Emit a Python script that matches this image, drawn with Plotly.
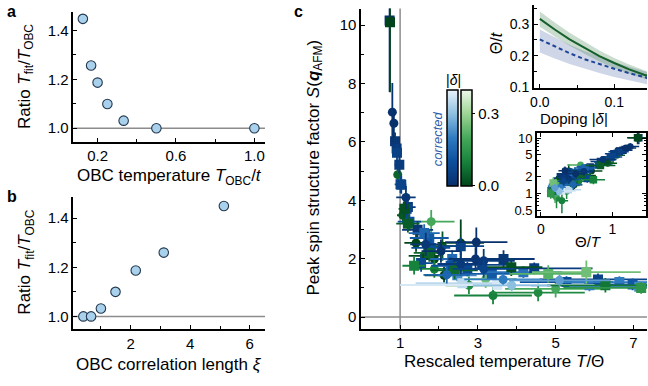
import plotly.graph_objects as go
from plotly.colors import sample_colorscale

W, H = 648, 386
FONT = "Liberation Sans, Arial, sans-serif"
TICK = 15
TITLE = 17

# ---------------- panel a / b data ----------------
a_T_obc = [0.125, 0.167, 0.2, 0.25, 0.333, 0.5, 1.0]
a_ratio = [1.448, 1.257, 1.187, 1.099, 1.031, 1.0, 1.0]
b_xi = [0.41, 0.67, 1.0, 1.49, 2.17, 3.11, 5.13]
b_ratio = [1.0, 1.0, 1.032, 1.10, 1.187, 1.26, 1.45]

# ---------------- panel c data (T/Theta, S, x-err, y-err, |delta|) ----------------
# corrected (blue) squares
bs_x = [0.73, 0.87, 0.91, 0.92, 0.98, 1.01, 1.03, 1.2, 1.17, 1.24, 1.45, 1.75, 1.62, 1.79, 1.54, 2.56, 2.34, 2.3, 2.47, 2.73, 3.11, 3.36, 3.66, 4.17, 4.45, 5.28, 5.87, 6.09, 6.64, 6.98, 7.15, 2.6, 3.5]
bs_y = [10.16, 6.02, 5.78, 5.63, 5.22, 4.55, 4.53, 3.77, 3.71, 3.27, 2.99, 2.71, 2.88, 2.37, 1.85, 2.43, 1.99, 1.76, 1.43, 1.65, 1.79, 1.48, 1.99, 1.54, 1.67, 1.2, 1.09, 1.29, 1.2, 1.12, 1.04, 1.16, 1.1]
bs_ex = [0.08, 0.1, 0.1, 0.12, 0.12, 0.15, 0.12, 0.2, 0.15, 0.3, 0.4, 0.5, 0.4, 0.5, 0.3, 0.6, 0.6, 0.5, 0.5, 0.6, 0.7, 0.8, 0.8, 1.0, 1.5, 1.2, 1.5, 1.5, 1.5, 1.8, 1.8, 1.2, 2.5]
bs_ey = [2.45, 0.3, 0.3, 0.3, 0.3, 0.3, 0.3, 0.4, 0.3, 0.3, 0.3, 0.3, 0.3, 0.3, 0.3, 0.3, 0.3, 0.3, 0.2, 0.25, 0.25, 0.2, 0.3, 0.2, 0.2, 0.2, 0.2, 0.2, 0.2, 0.2, 0.2, 0.1, 0.1]
bs_d = [0.0, 0.02, 0.03, 0.05, 0.04, 0.08, 0.06, 0.03, 0.07, 0.1, 0.02, 0.12, 0.15, 0.1, 0.08, 0.06, 0.16, 0.1, 0.22, 0.08, 0.05, 0.12, 0.02, 0.18, 0.04, 0.1, 0.2, 0.06, 0.2, 0.12, 0.22, 0.35, 0.38]

# corrected (blue) circles
bc_x = [0.80, 0.84, 1.15, 1.66, 2.05, 2.56, 2.96, 2.94, 3.15, 3.15, 3.65, 3.87, 5.1, 2.2]
bc_y = [7.02, 6.64, 4.1, 2.49, 2.26, 1.82, 2.57, 1.99, 1.93, 1.65, 1.29, 1.09, 1.26, 1.45]
bc_ex = [0.08, 0.1, 0.25, 0.4, 0.5, 0.6, 0.8, 0.7, 0.8, 0.8, 1.0, 1.0, 1.3, 0.6]
bc_ey = [1.0, 0.5, 0.4, 0.4, 0.4, 0.4, 0.5, 0.4, 0.4, 0.3, 0.2, 0.2, 0.2, 0.3]
bc_d = [0.01, 0.0, 0.02, 0.02, 0.0, 0.03, 0.0, 0.01, 0.03, 0.06, 0.2, 0.3, 0.25, 0.15]

# uncorrected (green) squares
gs_x = [0.74, 1.11, 1.2, 1.36, 3.86, 4.81, 5.79, 6.28, 2.4, 1.75, 7.2]
gs_y = [10.1, 3.71, 3.2, 1.76, 1.71, 1.48, 1.54, 1.09, 1.6, 2.2, 1.0]
gs_ex = [0.08, 0.15, 0.3, 0.3, 0.8, 1.0, 1.4, 1.5, 0.6, 0.4, 2.0]
gs_ey = [2.4, 0.4, 0.3, 0.3, 0.3, 0.3, 0.4, 0.25, 0.3, 0.3, 0.2]
gs_d = [0.0, 0.02, 0.04, 0.1, 0.02, 0.22, 0.25, 0.08, 0.06, 0.05, 0.15]

# uncorrected (green) circles
gc_x = [0.94, 1.07, 1.41, 1.62, 1.88, 1.88, 2.13, 2.09, 2.56, 1.8, 2.77, 3.39, 4.55, 5.0, 3.2]
gc_y = [4.88, 3.49, 2.54, 2.1, 1.99, 1.65, 1.43, 2.43, 2.54, 3.27, 1.09, 0.74, 0.84, 0.97, 1.3]
gc_ex = [0.1, 0.15, 0.3, 0.4, 0.4, 0.4, 0.5, 0.5, 0.6, 0.6, 0.6, 1.0, 1.2, 1.3, 0.8]
gc_ey = [0.3, 0.3, 0.3, 0.3, 0.3, 0.3, 0.3, 0.5, 0.8, 0.4, 0.3, 0.3, 0.3, 0.3, 0.3]
gc_d = [0.05, 0.03, 0.0, 0.01, 0.0, 0.1, 0.0, 0.03, 0.0, 0.2, 0.12, 0.1, 0.12, 0.2, 0.25]

# ---------------- inset: Theta/t vs doping ----------------
dop = [0.0, 0.02, 0.04, 0.06, 0.08, 0.10, 0.12, 0.14, 0.16]
th_g = [0.317, 0.283, 0.252, 0.225, 0.199, 0.177, 0.157, 0.140, 0.125]
th_g_hi = [0.340, 0.305, 0.273, 0.244, 0.217, 0.193, 0.172, 0.154, 0.138]
th_g_lo = [0.292, 0.261, 0.232, 0.206, 0.182, 0.161, 0.143, 0.127, 0.113]
th_b = [0.252, 0.229, 0.208, 0.189, 0.173, 0.159, 0.145, 0.132, 0.120]
th_b_hi = [0.283, 0.258, 0.235, 0.215, 0.197, 0.180, 0.165, 0.151, 0.138]
th_b_lo = [0.210, 0.191, 0.174, 0.159, 0.145, 0.133, 0.121, 0.111, 0.101]

BLUES = [[0, "#08306b"], [0.25, "#0b4f9c"], [0.5, "#2f7bc0"], [0.75, "#8dbfe0"], [1, "#eaf2fa"]]
GREENS = [[0, "#00441b"], [0.25, "#17823c"], [0.5, "#45a85a"], [0.75, "#9dd494"], [1, "#edf8ea"]]
DMAX = 0.4

def px(x):
    return x / W

def py(y):
    return 1 - y / H

fig = go.Figure()

# panels a and b
mk = dict(size=9.5, color="#a9d1ec", line=dict(color="#23384f", width=1.1))
fig.add_trace(go.Scatter(x=a_T_obc, y=a_ratio, mode="markers", marker=mk, xaxis="x", yaxis="y", showlegend=False))
fig.add_trace(go.Scatter(x=b_xi, y=b_ratio, mode="markers", marker=mk, xaxis="x2", yaxis="y2", showlegend=False))


def add_group(xs, ys, exs, eys, ds, symbol, scale, size):
    for x, y, ex, ey, d in zip(xs, ys, exs, eys, ds):
        col = sample_colorscale(scale, [d / DMAX])[0]
        fig.add_trace(go.Scatter(
            x=[x], y=[y], mode="markers", xaxis="x3", yaxis="y3", showlegend=False,
            marker=dict(symbol=symbol, size=size, color=col, line=dict(width=0)),
            error_x=dict(type="data", array=[ex], color=col, thickness=1.8, width=0),
            error_y=dict(type="data", array=[ey], color=col, thickness=1.8, width=0)))
        # inset: Theta/T
        ix = 1.0 / x
        iex = ex / (x * x)
        fig.add_trace(go.Scatter(
            x=[ix], y=[y], mode="markers", xaxis="x5", yaxis="y5", showlegend=False,
            marker=dict(symbol=symbol, size=size * 0.75, color=col, line=dict(width=0)),
            error_x=dict(type="data", array=[iex], color=col, thickness=1.5, width=0),
            error_y=dict(type="data", array=[ey], color=col, thickness=1.5, width=0)))


add_group(gc_x, gc_y, gc_ex, gc_ey, gc_d, "circle", GREENS, 9)
add_group(bs_x, bs_y, bs_ex, bs_ey, bs_d, "square", BLUES, 10)
add_group(gs_x, gs_y, gs_ex, gs_ey, gs_d, "square", GREENS, 10)
add_group(bc_x, bc_y, bc_ex, bc_ey, bc_d, "circle", BLUES, 9)

# colorbars
cb_common = dict(thickness=11, thicknessmode="pixels", len=98 / H, lenmode="fraction",
                 y=py(188), yanchor="bottom", xanchor="left", xpad=0, ypad=0,
                 outlinewidth=1.5, outlinecolor="black")
fig.add_trace(go.Scatter(x=[None], y=[None], mode="markers", xaxis="x3", yaxis="y3", showlegend=False,
                         marker=dict(color=[0], colorscale=BLUES, cmin=0, cmax=DMAX, showscale=True,
                                     colorbar=dict(x=px(446), showticklabels=False, ticks="", **cb_common))))
fig.add_trace(go.Scatter(x=[None], y=[None], mode="markers", xaxis="x3", yaxis="y3", showlegend=False,
                         marker=dict(color=[0], colorscale=GREENS, cmin=0, cmax=DMAX, showscale=True,
                                     colorbar=dict(x=px(461), tickvals=[0, 0.3], ticktext=["0.0", "0.3"],
                                                   ticks="outside", ticklen=3, tickwidth=1, tickcolor="black",
                                                   tickfont=dict(size=TICK, family=FONT, color="black"), **cb_common))))

# inset 1: bands and lines
fig.add_trace(go.Scatter(x=dop + dop[::-1], y=th_b_hi + th_b_lo[::-1], fill="toself", mode="lines",
                         line=dict(width=0), fillcolor="rgba(95,120,175,0.30)", xaxis="x4", yaxis="y4", showlegend=False))
fig.add_trace(go.Scatter(x=dop + dop[::-1], y=th_g_hi + th_g_lo[::-1], fill="toself", mode="lines",
                         line=dict(width=0), fillcolor="rgba(80,140,90,0.30)", xaxis="x4", yaxis="y4", showlegend=False))
fig.add_trace(go.Scatter(x=dop, y=th_g, mode="lines", line=dict(color="#15602a", width=2),
                         xaxis="x4", yaxis="y4", showlegend=False))
fig.add_trace(go.Scatter(x=dop, y=th_b, mode="lines", line=dict(color="#1f4596", width=2, dash="4px,3px"),
                         xaxis="x4", yaxis="y4", showlegend=False))

axbase = dict(showline=True, linecolor="black", linewidth=1.6, ticks="inside", ticklen=4, tickwidth=1.2,
              tickcolor="black", showgrid=False, zeroline=False,
              tickfont=dict(size=TICK, family=FONT, color="black"))
small_tick = dict(size=14, family=FONT, color="black")


def ax(**kw):
    d = dict(axbase)
    d.update(kw)
    return d


def mnr(vals, ln=3):
    return dict(tickvals=vals, ticks="inside", ticklen=ln, tickcolor="black")


layout = dict(
    width=W, height=H, margin=dict(l=0, r=0, t=0, b=0), paper_bgcolor="white", plot_bgcolor="white",
    font=dict(family=FONT, size=TICK, color="black"),
    xaxis=ax(domain=[px(70), px(263)], range=[0.077, 1.054], tickvals=[0.2, 0.6, 1.0], ticktext=["0.2", "0.6", "1.0"],
             minor=mnr([0.4, 0.8]), anchor="y"),
    yaxis=ax(domain=[py(143), py(10)], range=[0.945, 1.477], tickvals=[1.0, 1.2, 1.4], ticktext=["1.0", "1.2", "1.4"],
             minor=mnr([1.1, 1.3]), anchor="x"),
    xaxis2=ax(domain=[px(70), px(263)], range=[0.078, 6.51], tickvals=[2, 4, 6],
              minor=mnr([1, 3, 5]), anchor="y2"),
    yaxis2=ax(domain=[py(335), py(200)], range=[0.948, 1.485], tickvals=[1.0, 1.2, 1.4], ticktext=["1.0", "1.2", "1.4"],
              minor=mnr([1.1, 1.3]), anchor="x2"),
    xaxis3=ax(domain=[px(360), 1.0], range=[0.0, 7.35], tickvals=[1, 3, 5, 7],
              minor=mnr([2, 4, 6]), anchor="y3"),
    yaxis3=ax(domain=[py(334.3), py(6.7)], range=[-0.39, 10.57], tickvals=[0, 2, 4, 6, 8, 10],
              minor=mnr([1, 3, 5, 7, 9]), anchor="x3"),
    xaxis4=ax(domain=[px(534), 1.0], range=[-0.008, 0.144], tickvals=[0.0, 0.1], ticktext=["0.0", "0.1"],
              minor=mnr([0.05]), anchor="y4", tickfont=small_tick),
    yaxis4=ax(domain=[py(88), py(3)], range=[0.098, 0.361], tickvals=[0.1, 0.2, 0.3], ticktext=["0.1", "0.2", "0.3"],
              minor=mnr([0.15, 0.25, 0.35]), anchor="x4", tickfont=small_tick),
    xaxis5=ax(domain=[px(537), px(647)], range=[-0.055, 1.47], tickvals=[0, 1], mirror="allticks",
              minor=mnr([0.5]), anchor="y5", tickfont=small_tick),
    yaxis5=ax(domain=[py(219), py(134)], type="log", range=[-0.406, 1.093], tickvals=[0.5, 1, 2, 5, 10],
              ticktext=["0.5", "1", "2", "5", "10"], mirror="allticks",
              tickfont=dict(size=13, family=FONT, color="black"),
              minor=mnr([0.6, 0.7, 0.8, 0.9, 3, 4, 6, 7, 8, 9], 2), anchor="x5"),
)
fig.update_layout(**layout)

# reference lines
gray = dict(color="#8c8c8c", width=1.5)
shapes = [
    dict(type="line", xref="x domain", yref="y", x0=0, x1=1, y0=1.0, y1=1.0, line=gray, layer="below"),
    dict(type="line", xref="x2 domain", yref="y2", x0=0, x1=1, y0=1.0, y1=1.0, line=gray, layer="below"),
    dict(type="line", xref="x3", yref="y3 domain", x0=1, x1=1, y0=0, y1=1, line=gray, layer="below"),
    dict(type="line", xref="x3 domain", yref="y3", x0=0, x1=1, y0=0, y1=0, line=gray, layer="below"),
    dict(type="line", xref="x5", yref="y5 domain", x0=0, x1=0, y0=0, y1=1, line=gray, layer="below"),
]
fig.update_layout(shapes=shapes)


def ann(text, x, y, size=TITLE, angle=0, **kw):
    d = dict(text=text, x=px(x), y=py(y), xref="paper", yref="paper", showarrow=False,
             xanchor="center", yanchor="middle", textangle=angle,
             font=dict(size=size, family=FONT, color=kw.pop("color", "black")))
    d.update(kw)
    return d


annotations = [
    ann("<b>a</b>", 8, 10, 16),
    ann("<b>b</b>", 8, 199, 16),
    ann("<b>c</b>", 297, 10, 16),
    ann("Ratio <i>T</i><sub>fit</sub>/<i>T</i><sub>OBC</sub>", 22, 76, TITLE, -90),
    ann("OBC temperature <i>T</i><sub>OBC</sub>/<i>t</i>", 167, 179, TITLE),
    ann("Ratio <i>T</i><sub>fit</sub>/<i>T</i><sub>OBC</sub>", 22, 266, TITLE, -90),
    ann("OBC correlation length <i>ξ</i>", 166, 371, TITLE),
    ann("Peak spin structure factor <i>S</i>(<b><i>q</i></b><sub>AFM</sub>)", 313, 170, TITLE, -90),
    ann("Rescaled temperature <i>T</i>/Θ", 504, 368, TITLE),
    ann("Θ/<i>t</i>", 496, 42, 16, -90),
    ann("Doping |<i>δ</i>|", 574, 119, 15),
    ann("Θ/<i>T</i>", 589, 245, 15),
    ann("|<i>δ</i>|", 453, 80, 14),
    ann("<i>corrected</i>", 437, 140, 13, -90, color="#2a5aa8"),
]
fig.update_layout(annotations=annotations)

fig.write_html("out.html")
